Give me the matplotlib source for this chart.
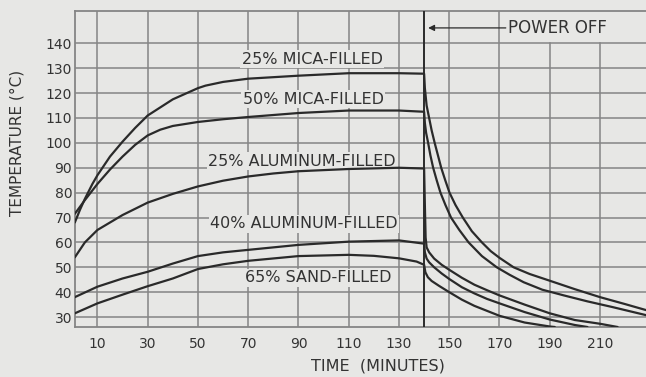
import matplotlib
matplotlib.use("Agg")
import matplotlib.pyplot as plt

# readings (minutes, deg C)
mica25_t = [1, 3, 5, 8, 10, 15, 20, 25, 30, 40, 50, 53, 60, 70, 90, 110, 130, 140,
            140.3, 141, 142, 143, 144.2, 145.5, 146.8, 148.4, 150.1, 152.5, 155.4, 159, 163,
            166.5, 170, 175.6, 182, 190, 200, 210, 220, 229]
mica25_v = [68, 73, 77.5, 83.5, 87, 94.5, 100.5, 106, 111, 117.5, 122, 123, 124.5, 125.8, 127, 128, 128, 127.8,
            122, 115, 110, 105, 100, 95, 90, 85, 80, 75, 70, 64.5, 60,
            56.5, 53.8, 50, 47.3, 44.6, 41.2, 38, 35.2, 32.6]

mica50_t = [1, 5, 10, 15, 20, 25, 30, 35, 40, 50, 60, 70, 90, 110, 130, 140,
            140.3, 140.8, 141.6, 142.5, 143.6, 145, 146.5, 148.5, 150.7, 154, 157.7, 163,
            168.9, 174, 179.6, 187, 195.6, 205, 215, 229]
mica50_v = [71.5, 77, 83.5, 89.3, 94.5, 99.2, 103, 105.3, 106.8, 108.4, 109.5, 110.4, 112, 113, 113, 112.5,
            108, 104, 100, 95, 90, 85, 80, 75, 70, 65, 60, 54.5,
            50, 47, 44, 41, 38.7, 36.3, 34, 30.6]

al25_t = [1, 5, 10, 20, 30, 40, 50, 60, 70, 80, 90, 110, 130, 140,
          140.3, 140.6, 141, 142, 144, 147, 150, 155, 160, 165, 170, 180, 190, 200, 210, 217]
al25_v = [54, 60, 65, 71, 76, 79.5, 82.5, 84.8, 86.5, 87.7, 88.6, 89.5, 90, 89.7,
          75, 62, 58, 56, 53.5, 51, 49, 45.8, 43, 40.8, 38.7, 35, 31.5, 28.8, 27.3, 26]

al40_t = [1, 10, 20, 30, 40, 50, 60, 70, 90, 110, 130, 140,
          140.3, 141, 142, 144, 147, 150, 155, 160, 165, 170, 180, 190, 200, 205]
al40_v = [38, 42.2, 45.5, 48.2, 51.5, 54.5, 56, 57, 59, 60.3, 60.8, 59.5,
          56, 53.5, 52, 50, 47.5, 45.3, 42, 39.5, 37.3, 35.5, 32, 29, 26.8, 26]

sand_t = [1, 10, 20, 30, 40, 50, 60, 70, 90, 110, 120, 130, 137, 140,
          140.5, 141.5, 143, 146, 150, 155, 160, 170, 180, 190, 192]
sand_v = [31.5, 35.5, 39, 42.4, 45.5, 49.3, 51.2, 52.6, 54.5, 55, 54.6, 53.6, 52.3, 51,
          48, 46, 44.5, 42.5, 40, 37, 34.5, 30.5, 27.8, 26.2, 26]

series = [(mica25_t, mica25_v), (mica50_t, mica50_v), (al25_t, al25_v),
          (al40_t, al40_v), (sand_t, sand_v)]

labels = ["25% MICA-FILLED", "50% MICA-FILLED", "25% ALUMINUM-FILLED",
          "40% ALUMINUM-FILLED", "65% SAND-FILLED"]
label_t = [95.5, 95.8, 91.4, 92.2, 97.8]
label_v = [131.9, 115.8, 90.9, 65.6, 44.0]   # baselines

x_ticks = [10, 30, 50, 70, 90, 110, 130, 150, 170, 190, 210]
y_ticks = [30, 40, 50, 60, 70, 80, 90, 100, 110, 120, 130, 140]
power_off = 140

bg = "#e7e7e5"
grid_c = "#858585"
ink = "#2a2a2a"
txt = "#333333"

fig = plt.figure(figsize=(6.46, 3.77), dpi=100, facecolor=bg)
ax = fig.add_axes([75 / 646, 1 - 327 / 377, 1 - 75 / 646, 316 / 377])
ax.set_facecolor(bg)
xlo, xhi = 1.07, 228.3
ylo, yhi = 26.0, 153.0
ax.set_xlim(xlo, xhi)
ax.set_ylim(ylo, yhi)

# grid (190 and 210 stop below the "POWER OFF" row)
for x in x_ticks:
    top = 1.0
    if x > 180:
        top = (140 - ylo) / (yhi - ylo)
    ax.axvline(x, ymax=top, color=grid_c, lw=1.1, zorder=1)
for y in y_ticks:
    ax.axhline(y, color=grid_c, lw=1.1, zorder=1)

ax.axvline(power_off, color=ink, lw=1.4, zorder=3)

for t, v in series:
    ax.plot(t, v, color=ink, lw=1.6, zorder=6, solid_capstyle="round")

for s, t, v in zip(labels, label_t, label_v):
    ax.text(t, v, s, ha="center", va="baseline", fontsize=11.5, color=txt, zorder=5,
            bbox=dict(facecolor=bg, edgecolor="none", pad=1.0))

ax.annotate("", xy=(141.6, 146.2), xytext=(172.5, 146.2),
            arrowprops=dict(arrowstyle="-|>", color=ink, lw=0.9, mutation_scale=9,
                            shrinkA=0, shrinkB=0), zorder=5)
ax.text(173.4, 146.2, "POWER OFF", ha="left", va="center", fontsize=12, color=txt, zorder=5)

ax.set_xticks(x_ticks)
ax.set_yticks(y_ticks)
ax.tick_params(length=0, labelsize=10, labelcolor=txt)
ax.tick_params(axis="x", pad=7)
ax.tick_params(axis="y", pad=2)

for side in ["left", "bottom", "top"]:
    ax.spines[side].set_color(grid_c)
    ax.spines[side].set_linewidth(1.3)
ax.spines["right"].set_visible(False)

fig.text(378 / 646, 1 - 366 / 377, "TIME  (MINUTES)", ha="center", va="center",
         fontsize=11.5, color=txt)
fig.text(16.7 / 646, 1 - 142.5 / 377, "TEMPERATURE (°C)", ha="center", va="center",
         rotation=90, fontsize=11, color=txt)

fig.savefig("out.png", dpi=100, facecolor=bg)
